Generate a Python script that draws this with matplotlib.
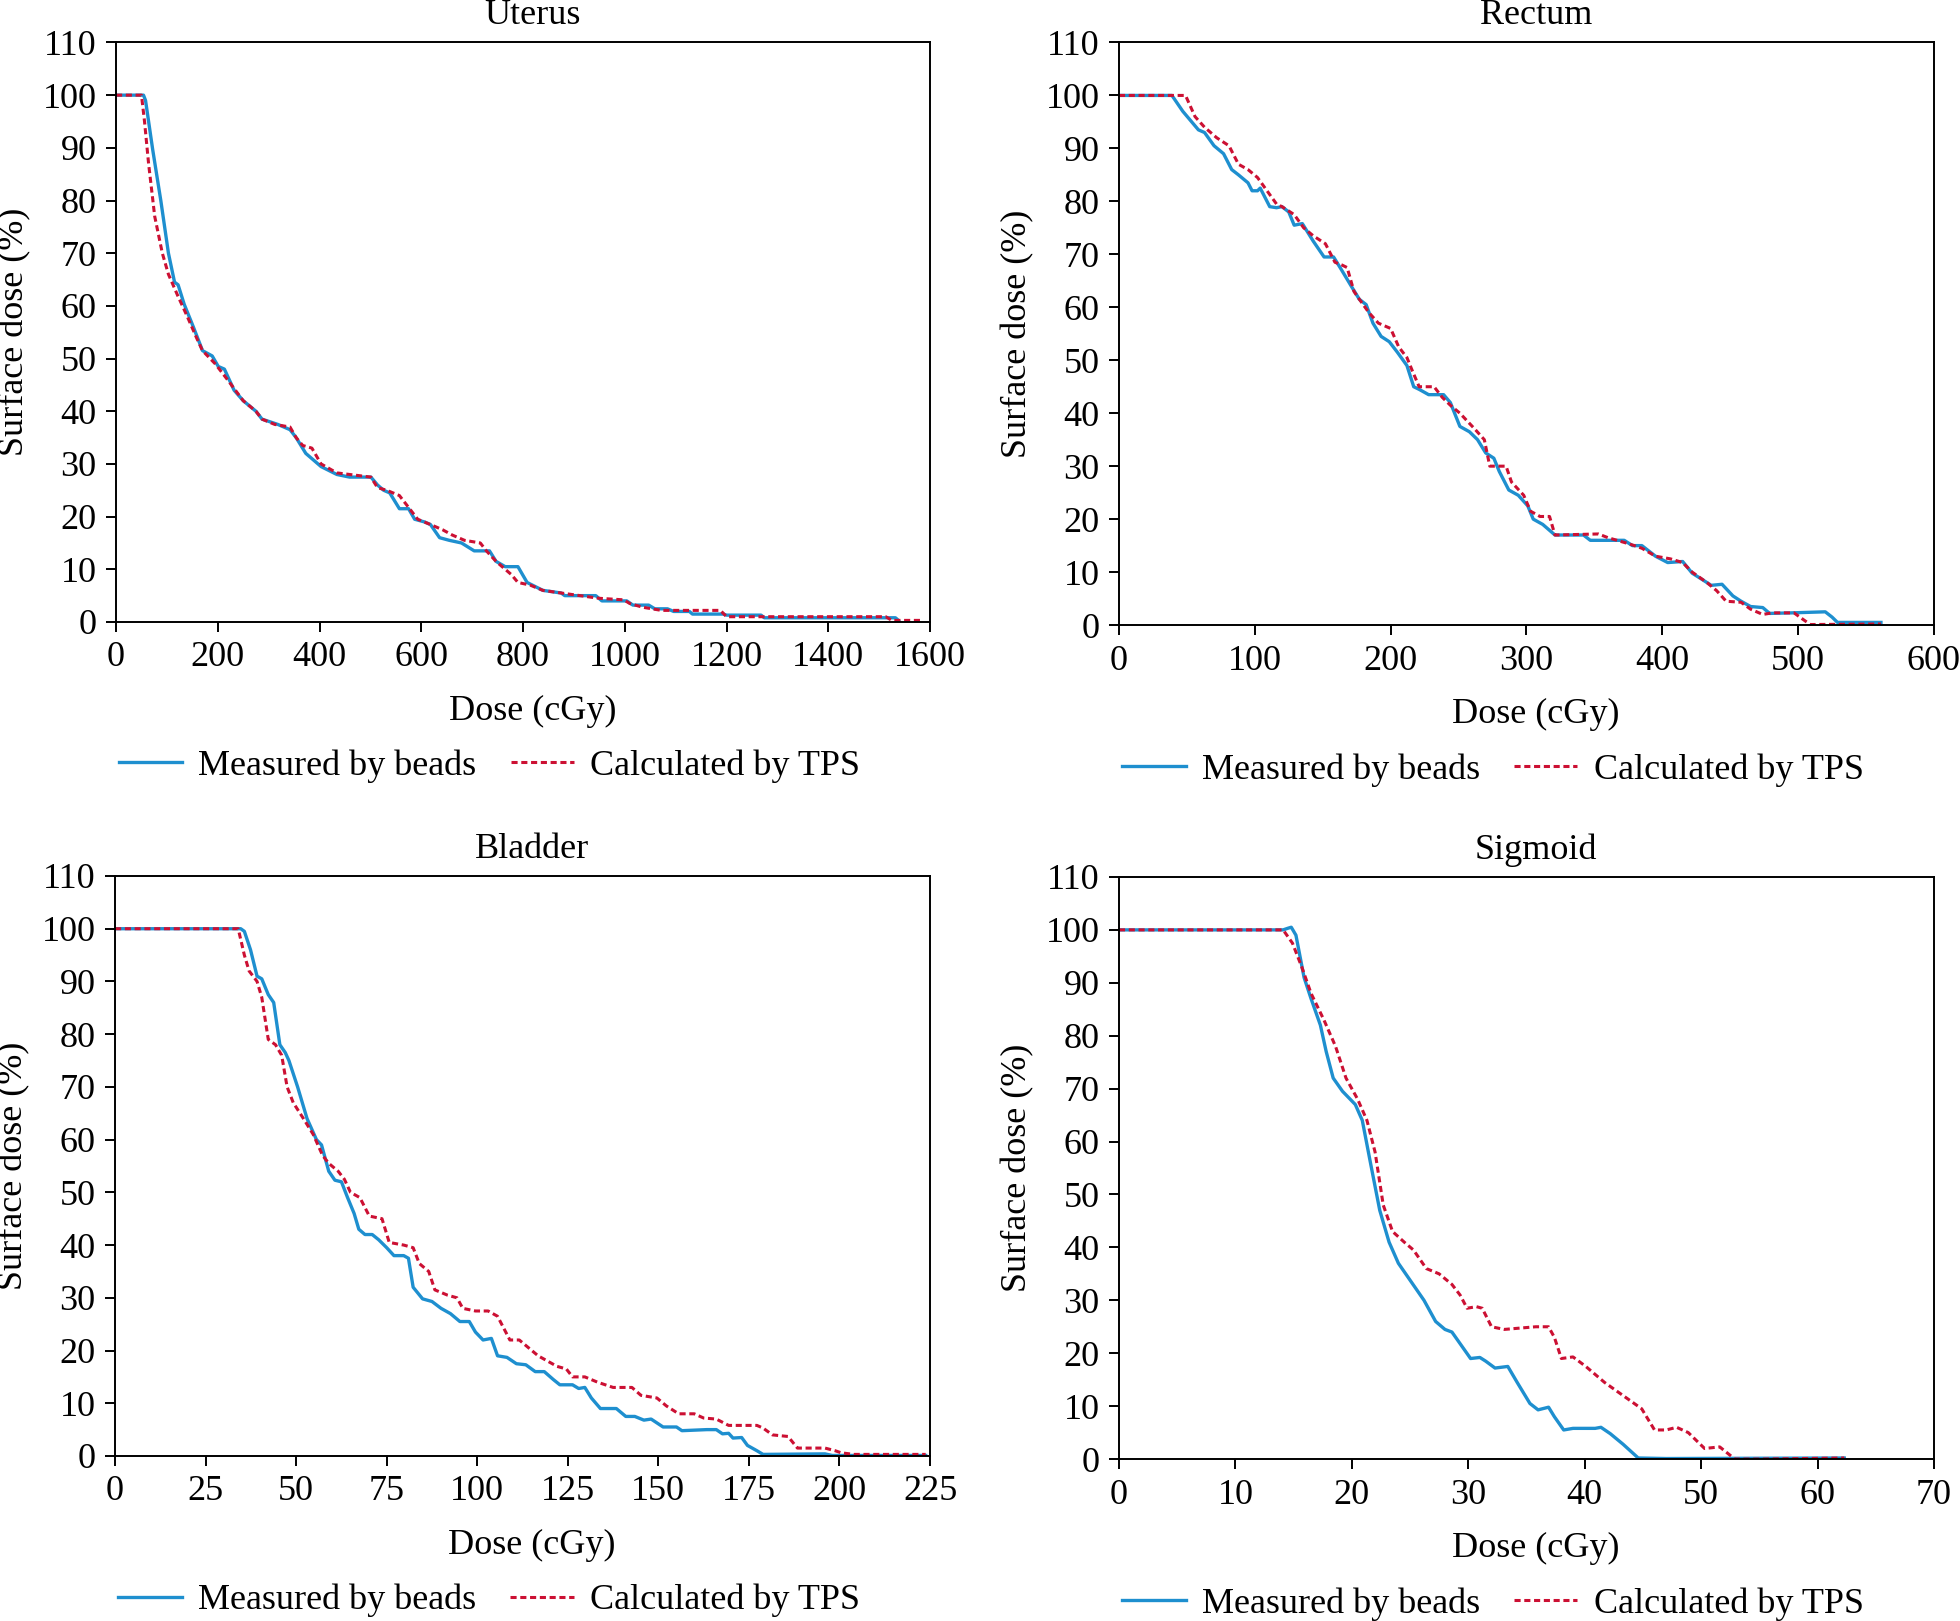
import matplotlib
matplotlib.use("Agg")
import matplotlib.pyplot as plt

plt.rcParams['font.family'] = ['Liberation Serif', 'DejaVu Serif']

BLUE = '#1e8fcf'
RED = '#cc1033'

# ---------------- Uterus ----------------
ut_meas_x = [0, 54, 58, 72, 88, 103, 115, 122, 134, 152, 170, 189, 201, 213, 232, 250, 275, 287, 318, 342, 354, 373,
             385, 403, 434, 459, 501, 514, 526, 538, 557, 575, 587, 606, 618, 636, 655, 679, 704, 734, 747, 765, 790,
             808, 839, 875, 882, 943, 955, 1004, 1016, 1047, 1059, 1084, 1096, 1127, 1133, 1194, 1200, 1268, 1274,
             1532, 1538]
ut_meas_y = [100, 100, 99, 89.7, 80, 70, 64.5, 64, 60.3, 56, 51.5, 50.5, 48.5, 48, 44, 42, 40, 38.5, 37.5, 36.5, 35, 32,
             31, 29.5, 28, 27.5, 27.5, 26, 25, 24.5, 21.5, 21.5, 19.5, 19, 18.5, 16, 15.5, 15, 13.5, 13.5, 11.5, 10.5,
             10.5, 7.5, 6, 5.5, 5, 5, 4, 4, 3.2, 3.2, 2.5, 2.5, 2, 2, 1.5, 1.5, 1.3, 1.3, 0.8, 0.8, 0.3]
ut_calc_x = [0, 50, 56, 64, 76, 91, 103, 121, 140, 158, 170, 195, 219, 250, 275, 287, 312, 342, 354, 367, 385, 403,
             434, 459, 501, 514, 532, 557, 581, 593, 618, 642, 661, 685, 716, 728, 747, 765, 777, 790, 814, 839, 875,
             949, 998, 1010, 1035, 1072, 1188, 1200, 1513, 1525, 1581]
ut_calc_y = [100, 100, 95, 87, 77, 70, 66, 62, 58, 54, 51.5, 49, 46, 42, 40, 38.5, 37.5, 37, 35, 33.5, 33, 30,
             28.3, 28, 27.5, 25.5, 25, 24, 21, 19.5, 18.5, 17.5, 16.5, 15.5, 15, 13.5, 11.5, 10, 9, 7.5, 7, 6, 5.5,
             4.5, 4.2, 3.5, 2.8, 2.2, 2.2, 1, 1, 0.3, 0.3]

# ---------------- Rectum ----------------
re_meas_x = [0, 39, 47, 58.5, 63, 70, 77, 83, 88, 95, 98, 102, 104, 111, 116, 120, 125, 129, 135, 143, 151, 158, 164,
             171, 177, 182, 187, 193, 199, 205, 212, 217, 221, 228, 239, 244, 251, 258, 264, 270, 276, 280, 287, 294,
             301, 305, 312, 321, 342, 347, 372, 378, 385, 395, 404, 415, 422, 430, 436, 444, 452, 458, 465, 474, 479,
             495, 520, 525, 529, 561]
re_meas_y = [100, 100, 97, 93.5, 93, 90.5, 89, 86, 85, 83.5, 82, 82, 82.5, 79, 78.8, 79, 78, 75.5, 75.8, 72.5, 69.5,
             69.5, 67, 64, 61.5, 60.5, 57, 54.5, 53.5, 51.5, 49, 45, 44.5, 43.5, 43.5, 42, 37.5, 36.5, 35, 32.5, 31.5,
             29, 25.5, 24.5, 22.5, 20, 19, 17, 17, 16, 16, 15, 15, 13, 11.8, 12, 9.8, 8.5, 7.5, 7.7, 5.5, 4.5, 3.5,
             3.3, 2.2, 2.3, 2.5, 1.5, 0.5, 0.5]
re_calc_x = [0, 49, 56, 63, 72, 81, 88, 95, 102, 109, 116, 120, 129, 136, 143, 152, 159, 164, 168, 173, 177, 184, 191,
             200, 206, 212, 216, 221, 232, 238, 244, 251, 262, 269, 273, 285, 289, 298, 303, 310, 317, 321, 353, 360,
             376, 385, 395, 406, 415, 422, 433, 440, 447, 458, 465, 474, 481, 497, 504, 509, 561]
re_calc_y = [100, 100, 96, 94, 92, 90.5, 87, 86, 84.5, 82, 79.5, 79, 77.5, 75, 73.5, 72, 68.5, 68, 67.5, 63, 61.5, 59,
             57, 56, 52.5, 50.5, 48, 45, 45, 43, 41.5, 40, 37, 35, 30, 30, 27, 24.5, 21.5, 20.5, 20.5, 17, 17.2, 16.5,
             15.3, 14.5, 13, 12.5, 11.8, 10, 8, 6.5, 4.5, 4.3, 3, 2, 2.3, 2.3, 1, 0.1, 0.2]

# ---------------- Bladder ----------------
bl_meas_x = [0, 34.7, 35.7, 37.4, 39.2, 40.5, 42.3, 43.8, 45.5, 47, 48, 50.4, 53, 55.6, 57, 59, 60.7, 62.5, 64.2, 66,
             67.3, 69, 71, 72.8, 75, 77, 79.7, 81, 82.3, 84.9, 87.5, 90, 92.6, 95.2, 97.8, 99.5, 101.6, 103.9, 105.6,
             108.2, 110.8, 113.4, 116, 118.5, 121, 122.8, 126.3, 128, 129.7, 131.5, 134, 138.4, 141, 143.5, 146, 148,
             151.3, 155, 156.5, 163.4, 166, 167.7, 169.4, 170.6, 173, 174.6, 177.2, 178.9, 196, 198, 223.8]
bl_meas_y = [100, 100, 99.5, 96, 91, 90.5, 87.5, 86, 78, 76.5, 75, 70, 64, 60, 59, 54, 52.3, 52, 49, 46, 43, 42, 42,
             41, 39.5, 38, 38, 37.5, 32, 29.8, 29.3, 28, 27, 25.5, 25.5, 23.5, 22, 22.3, 19, 18.7, 17.5, 17.3, 16, 16,
             14.5, 13.5, 13.5, 12.8, 13, 11, 9, 9, 7.5, 7.5, 6.8, 7, 5.5, 5.5, 4.8, 5, 5, 4.2, 4.3, 3.4, 3.5, 2, 1,
             0.3, 0.4, 0.1, 0.1]
bl_calc_x = [0, 34, 35.7, 37, 39.2, 40.5, 42.3, 44.3, 46, 47.5, 49.2, 52, 54.7, 57.3, 59, 61.6, 63.3, 65, 67.6, 70.2,
             73.7, 75.7, 79.7, 82.3, 84, 86.6, 88.3, 91.8, 94.4, 96, 99.5, 103, 105.6, 109, 111.6, 114.2, 116.8, 119.4,
             122, 124.6, 126.3, 129.7, 133.2, 137.5, 142.7, 145.2, 149.6, 152.2, 155.6, 159.9, 162.5, 166, 169.4,
             177.2, 178.9, 181.5, 185.8, 188.4, 196, 198.8, 200.5, 204, 223.8]
bl_calc_y = [100, 100, 95, 92, 90, 87, 79, 78, 76, 70, 67, 64, 61, 57, 55.5, 54, 52.5, 50, 49, 45.5, 45, 40.5, 40,
             39.5, 36.5, 35, 31.5, 30.5, 30, 28, 27.5, 27.5, 26.5, 22, 22, 20.5, 19, 18, 17, 16.5, 15, 15, 14, 13, 13,
             11.5, 11, 9.5, 8, 8, 7.2, 7, 5.8, 5.8, 5.3, 4, 3.7, 1.5, 1.5, 1, 0.6, 0.3, 0.3]

# ---------------- Sigmoid ----------------
sg_meas_x = [0, 14.1, 14.5, 14.8, 15.2, 15.9, 16.5, 17.3, 17.8, 18.4, 19.2, 20.3, 20.9, 21.6, 22.4, 23.2, 24, 25.1,
             26.2, 27.2, 28, 28.6, 29.4, 30.2, 31, 31.5, 32.3, 33.4, 34.2, 35.3, 36, 36.9, 37.4, 38.2, 39, 40.9, 41.4,
             42.2, 43.3, 44.6, 47, 62.3]
sg_meas_y = [100, 100, 100.3, 100.5, 99, 91, 87, 82, 77, 72, 69.5, 67, 64, 56, 47, 41, 37, 33.5, 30, 26, 24.5, 24,
             21.5, 19, 19.2, 18.5, 17.2, 17.5, 14.5, 10.5, 9.3, 9.8, 8, 5.5, 5.8, 5.8, 6, 4.8, 2.8, 0.2, 0.1, 0.2]
sg_calc_x = [0, 14.1, 14.9, 15.7, 16.5, 17.6, 18.6, 19.5, 20.5, 21.3, 22, 22.7, 23.5, 24.5, 25.3, 26.4, 27.5, 28.6,
             29.3, 29.9, 30.7, 31.2, 32, 33.1, 35.8, 36.9, 37.4, 38, 39, 40.1, 41.7, 43.3, 44.9, 46, 47, 47.9, 48.9,
             50.3, 51.6, 52.9, 55.1, 62.3]
sg_calc_y = [100, 100, 97.5, 93, 88, 83, 78, 72, 68, 64, 58, 48, 43, 41, 39.5, 36, 35, 33, 31, 28.5, 28.8, 28.5, 25,
             24.5, 25, 25, 23, 19, 19.3, 17.5, 14.5, 12, 9.5, 5.5, 5.5, 6, 5, 2, 2.3, 0, 0, 0.2]

titles = ['Uterus', 'Rectum', 'Bladder', 'Sigmoid']
xlims = [1600, 600, 225, 70]
xticks_list = [list(range(0, 1601, 200)), list(range(0, 601, 100)), list(range(0, 226, 25)), list(range(0, 71, 10))]
yticks = list(range(0, 111, 10))
series = [(ut_meas_x, ut_meas_y, ut_calc_x, ut_calc_y),
          (re_meas_x, re_meas_y, re_calc_x, re_calc_y),
          (bl_meas_x, bl_meas_y, bl_calc_x, bl_calc_y),
          (sg_meas_x, sg_meas_y, sg_calc_x, sg_calc_y)]

fig = plt.figure(figsize=(19.6, 16.21), dpi=100)
boxes = [(0.0592, 0.6163, 0.4153, 0.3575),
         (0.5709, 0.6144, 0.4158, 0.3594),
         (0.0587, 0.1018, 0.4158, 0.3578),
         (0.5709, 0.0999, 0.4158, 0.3591)]
FS = 26
for i, box in enumerate(boxes):
    ax = fig.add_axes(box)
    mx, my, cx, cy = series[i]
    ax.plot(mx, my, color=BLUE, lw=2.4, label='Measured by beads', solid_joinstyle='round')
    ax.plot(cx, cy, color=RED, lw=2.2, dashes=(2, 1.2), label='Calculated by TPS')
    ax.set_xlim(0, xlims[i])
    ax.set_ylim(0, 110)
    ax.set_xticks(xticks_list[i])
    ax.set_yticks(yticks)
    ax.tick_params(direction='out', length=7, width=1.4, labelsize=FS, pad=7)
    for s in ax.spines.values():
        s.set_linewidth(1.4)
    ax.set_title(titles[i], fontsize=FS, pad=13, x=0.5115)
    ax.set_xlabel('Dose (cGy)', fontsize=FS, labelpad=15, x=0.5115)
    ax.set_ylabel('Surface dose (%)', fontsize=FS, labelpad=8)
    ax.legend(loc='center', bbox_to_anchor=(0.459, -0.249), ncol=2, frameon=False, fontsize=FS,
              handlelength=1.75, handletextpad=0.45, columnspacing=0.95)

fig.savefig('out.png', dpi=100)
